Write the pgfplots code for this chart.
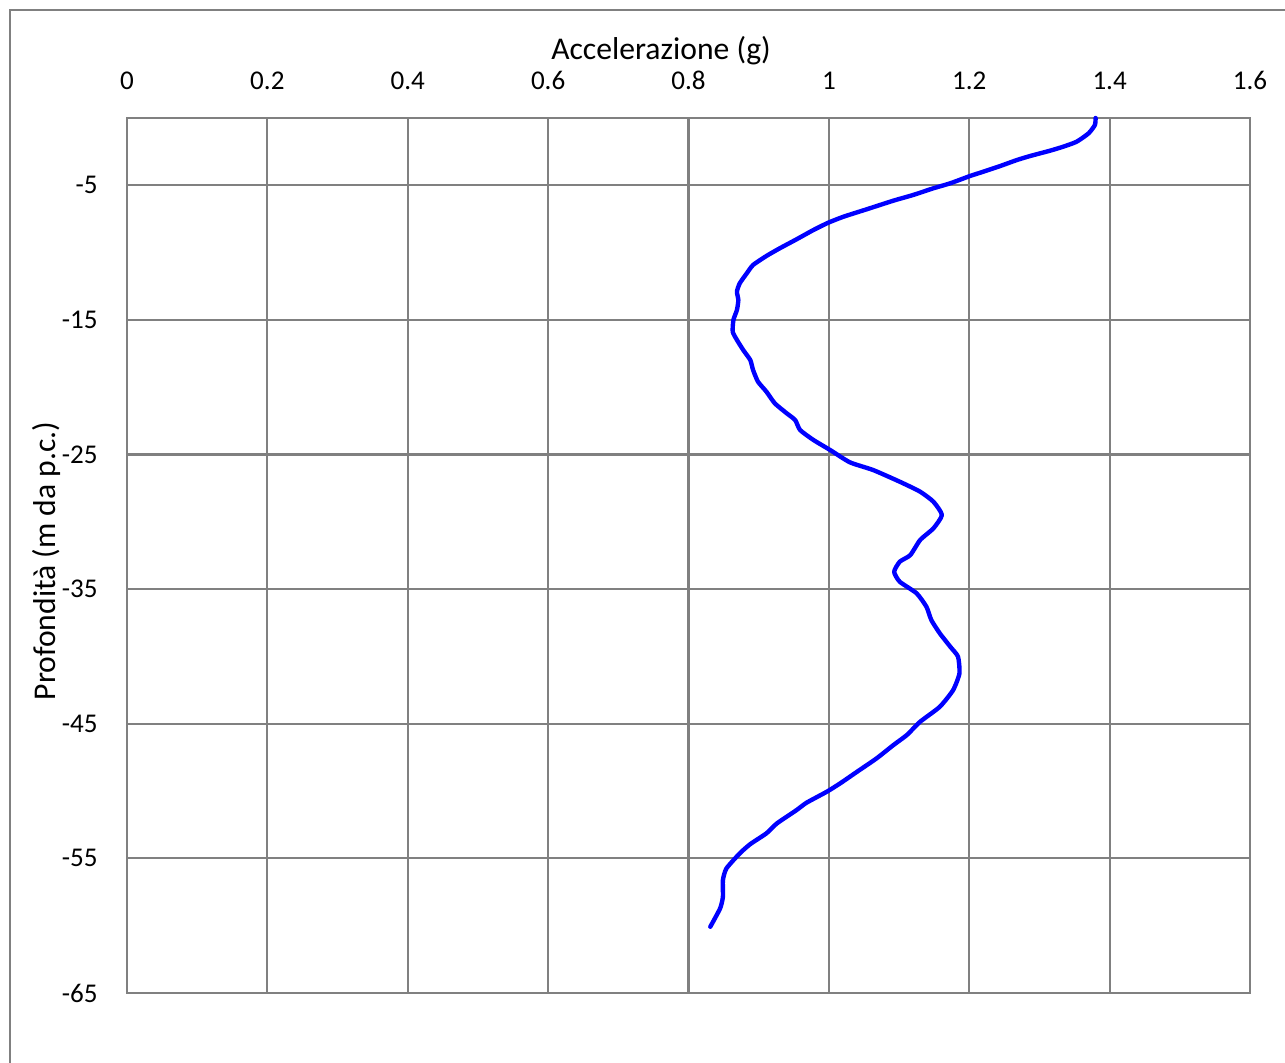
\documentclass[border=0pt]{standalone}
\usepackage{pgfplots}
\pgfplotsset{compat=1.18}
\usepackage{fontspec}
\setmainfont{Carlito}
\definecolor{gridgray}{RGB}{128,128,128}
\begin{document}
\begin{tikzpicture}
\useasboundingbox (0,0) rectangle (12.85,10.63);
\draw[gridgray, line width=0.6pt] (0.10,0) -- (0.10,10.53) -- (12.85,10.53);
\begin{axis}[
  at={(1.27cm,0.70cm)}, anchor=south west,
  scale only axis, width=11.23cm, height=8.75cm,
  xmin=0, xmax=1.6, ymin=-65, ymax=0,
  xtick={0,0.2,0.4,0.6,0.8,1,1.2,1.4,1.6},
  xticklabels={0,0.2,0.4,0.6,0.8,1,1.2,1.4,1.6},
  ytick={-65,-55,-45,-35,-25,-15,-5},
  yticklabels={-65,-55,-45,-35,-25,-15,-5},
  xticklabel pos=top,
  major tick length=0pt,
  tick style={draw=none},
  xmajorgrids, ymajorgrids,
  grid style={gridgray, line width=0.6pt},
  axis line style={gridgray, line width=0.6pt},
  xticklabel style={anchor=base, yshift=2.8mm, font=\fontsize{7.7}{9}\selectfont},
  yticklabel style={anchor=east, xshift=-1.7mm, font=\fontsize{7.7}{9}\selectfont},
  clip=false,
]
\addplot[color={rgb,255:red,0;green,0;blue,255}, line width=1.25pt, smooth, tension=0.35, line join=round, line cap=round] coordinates {
(1.380,0.00) (1.379,-0.52) (1.370,-1.14) (1.353,-1.76) (1.334,-2.13) (1.315,-2.43)
(1.287,-2.82) (1.268,-3.12) (1.244,-3.57) (1.220,-3.99) (1.201,-4.31) (1.173,-4.85)
(1.149,-5.22) (1.120,-5.72) (1.092,-6.14) (1.054,-6.78) (1.021,-7.33) (0.999,-7.78)
(0.978,-8.32) (0.954,-9.01) (0.930,-9.68) (0.911,-10.25) (0.892,-10.92) (0.883,-11.54)
(0.873,-12.28) (0.869,-12.90) (0.871,-13.52) (0.869,-14.26) (0.864,-15.00)
(0.863,-15.88) (0.869,-16.49) (0.878,-17.24) (0.888,-17.98) (0.892,-18.72)
(0.899,-19.59) (0.911,-20.33) (0.923,-21.20) (0.940,-21.94) (0.952,-22.44)
(0.959,-23.18) (0.978,-23.92) (1.002,-24.67) (1.030,-25.58) (1.063,-26.15)
(1.101,-27.02) (1.130,-27.76) (1.149,-28.51) (1.161,-29.49) (1.149,-30.48)
(1.130,-31.35) (1.116,-32.47) (1.101,-32.96) (1.093,-33.71) (1.101,-34.45)
(1.125,-35.31) (1.139,-36.31) (1.146,-37.30) (1.158,-38.28) (1.173,-39.28)
(1.184,-40.02) (1.186,-41.26) (1.177,-42.50) (1.158,-43.74) (1.130,-44.85)
(1.111,-45.84) (1.092,-46.58) (1.068,-47.57) (1.040,-48.57) (1.016,-49.43)
(0.997,-50.05) (0.968,-50.87) (0.954,-51.41) (0.926,-52.40) (0.911,-53.14)
(0.888,-53.94) (0.873,-54.63) (0.854,-55.75) (0.849,-56.62) (0.849,-57.86)
(0.845,-58.72) (0.831,-60.08)
};
\end{axis}
\node[anchor=base, inner sep=0pt, font=\fontsize{9}{11}\selectfont] at (6.61,10.03) {Accelerazione (g)};
\node[rotate=90, anchor=base, inner sep=0pt, font=\fontsize{9}{11}\selectfont] at (0.557,5.02) {Profondità (m da p.c.)};
\end{tikzpicture}
\end{document}
